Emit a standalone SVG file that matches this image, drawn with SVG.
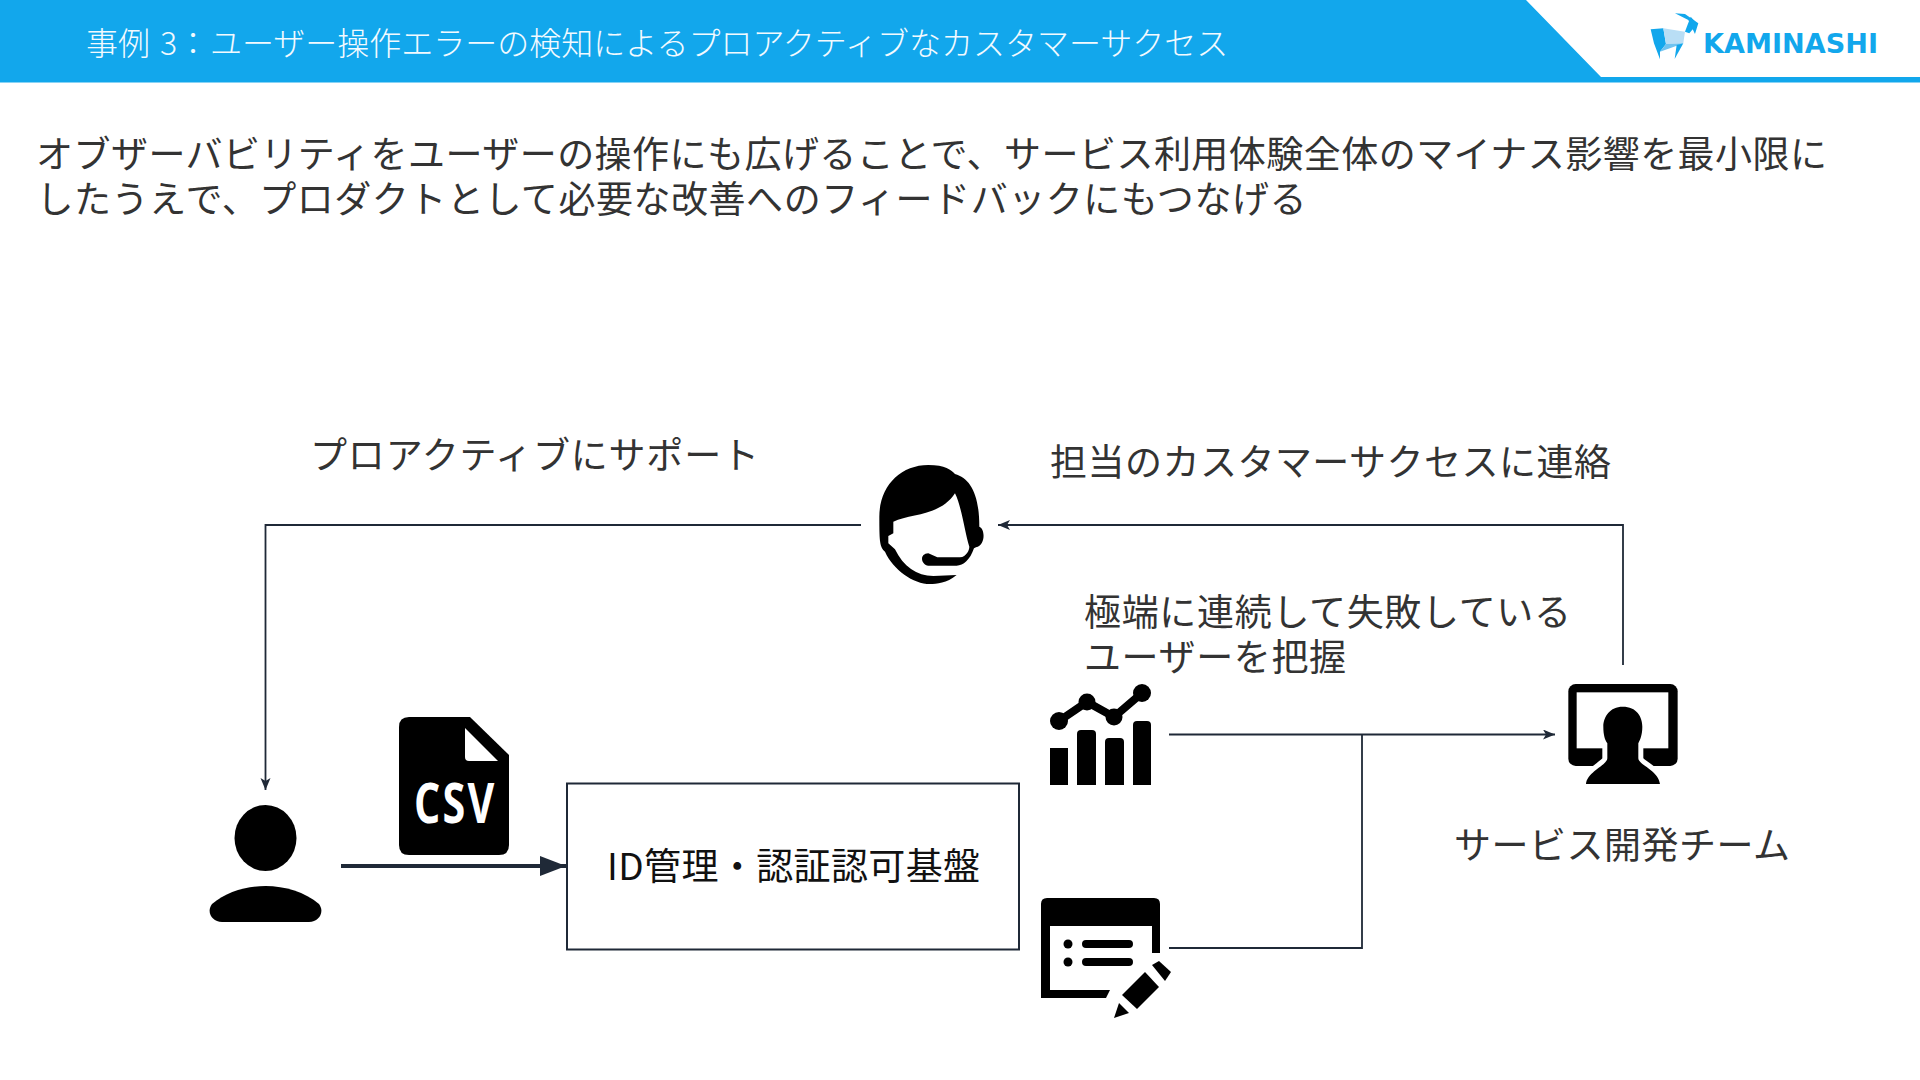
<svg xmlns="http://www.w3.org/2000/svg" width="1920" height="1080" viewBox="0 0 1920 1080">
<style>
text{font-family:"Noto Sans CJK JP","Noto Sans",sans-serif;font-weight:400;fill:#333;font-size:37px;dominant-baseline:alphabetic}
.ln{fill:none;stroke:#1f2937;stroke-width:1.8}
.ic{fill:#000}
</style>
<defs>
<marker id="a" markerUnits="userSpaceOnUse" markerWidth="14" markerHeight="12" refX="12" refY="5" orient="auto"><path d="M0 0L12 5L0 10L3 5Z" fill="#1f2937"/></marker>
<marker id="b" markerUnits="userSpaceOnUse" markerWidth="28" markerHeight="22" refX="26" refY="10" orient="auto"><path d="M0 0L26 10L0 20Z" fill="#1f2937"/></marker>
</defs>
<rect width="1920" height="1080" fill="#fff"/>
<g id="header">
<path d="M0 0H1526L1601 77H1920V82.500H0Z" fill="#12a7ec"/>
<text y="55" style="font-size:32px;fill:#f2faff;font-weight:300"><tspan x="86">事例</tspan><tspan x="160">3</tspan><tspan x="177">：</tspan><tspan x="210">ユーザー操作エラーの検知によるプロアクティブなカスタマーサクセス</tspan></text>
</g>
<g id="logo">
<g transform="translate(1500 0) scale(.3333)">
<path d="M452 88L490 85L498 132L480 155L480 178L462 130Z" fill="#12a7ec"/>
<path d="M490 85L555 95L550 130L498 132Z" fill="#b9def5"/>
<path d="M498 132L550 130L518 142L480 155Z" fill="#6fc3f0"/>
<path d="M555 95L572 50L592 72L568 100Z" fill="#12a7ec"/>
<path d="M525 40L555 42L595 70L585 102L565 60Z" fill="#12a7ec"/>
<path d="M550 130L524 177L530 135Z" fill="#12a7ec"/>
</g>
<text x="1703" y="53" textLength="175" lengthAdjust="spacingAndGlyphs" style="font-family:'DejaVu Sans',sans-serif;font-weight:700;font-size:26px;fill:#12a7ec">KAMINASHI</text>
</g>
<g id="intro">
<text x="36" y="168" textLength="1791">オブザーバビリティをユーザーの操作にも広げることで、サービス利用体験全体のマイナス影響を最小限に</text>
<text x="36.500" y="213" textLength="1270">したうえで、プロダクトとして必要な改善へのフィードバックにもつなげる</text>
</g>
<g id="connectors">
<path class="ln" d="M861 525H265.500V790" marker-end="url(#a)"/>
<path class="ln" d="M1623 665V525H998" marker-end="url(#a)"/>
<path class="ln" d="M1169 734.500H1555" marker-end="url(#a)"/>
<path class="ln" d="M1169 948H1362V734.500"/>
<path d="M341 866H566" fill="none" stroke="#1f2937" stroke-width="4" marker-end="url(#b)"/>
</g>
<g id="user" class="ic">
<ellipse cx="265.500" cy="838" rx="31" ry="33"/>
<path d="M222 922C212 922 206 912 212 904C226 892 246 886 265.500 886C285 886 305 892 319 904C325 912 319 922 309 922Z"/>
</g>
<g id="csv">
<path class="ic" d="M409 717H470L509 755V845Q509 855 499 855H409Q399 855 399 845V727Q399 717 409 717Z"/>
<path d="M465 728L498 761H469Q465 761 465 757Z" fill="#fff"/>
<text transform="translate(414 823) scale(.75 1)" x="0" y="0" textLength="107" style="font-family:'Open Sans',sans-serif;font-weight:700;font-size:55px;fill:#fff">CSV</text>
</g>
<g id="idp">
<rect x="567" y="783.500" width="452" height="166" fill="#fff" stroke="#1f2937" stroke-width="2"/>
<text x="607" y="880" textLength="373" style="fill:#111">ID管理・認証認可基盤</text>
</g>
<g id="chart" class="ic">
<path d="M1050 748H1068V785H1050Z"/>
<path d="M1077 734Q1077 730 1081 730H1092Q1096 730 1096 734V785H1077Z"/>
<path d="M1105 742Q1105 738 1109 738H1120Q1124 738 1124 742V785H1105Z"/>
<path d="M1133 725Q1133 721 1137 721H1147Q1151 721 1151 725V785H1133Z"/>
<path d="M1059 721L1087 702L1114 717L1142 693" fill="none" stroke="#000" stroke-width="8"/>
<circle cx="1059" cy="721" r="9"/><circle cx="1087" cy="702" r="8.500"/><circle cx="1114" cy="717" r="8.500"/><circle cx="1142" cy="693" r="9"/>
</g>
<g id="form">
<path class="ic" d="M1047 898H1154Q1160 898 1160 904V953H1152V926H1050V990H1110L1106 998H1041V904Q1041 898 1047 898Z"/>
<circle class="ic" cx="1068" cy="944" r="4.500"/><circle class="ic" cx="1068" cy="962" r="4.500"/>
<path d="M1086 944H1129M1086 962H1129" stroke="#000" stroke-width="8" stroke-linecap="round"/>
<path d="M1122 995L1145 972L1159 987L1137 1009Z" class="ic"/>
<path d="M1152 965L1159 961L1171 972L1165 981Z" class="ic"/>
<path d="M1114 1018L1119 1003L1129 1013Z" class="ic"/>
</g>
<g id="agent" transform="translate(850 450) scale(.3333)">
<path class="ic" d="M235 45C285 45 305 60 315 72C360 85 388 130 388 230C405 235 408 285 378 292L372 295C360 330 340 347 320 347L235 347C215 347 205 312 235 310L262 322L330 322C350 320 358 300 358 290C345 250 335 170 315 130C270 200 180 190 130 215L130 250L115 258L115 280L135 298C160 350 200 378 250 378L320 375C290 400 260 402 240 402C190 402 130 360 105 305C90 290 88 280 88 200C88 110 150 45 235 45Z"/>
</g>
<g id="team" transform="translate(1530 660) scale(.3333)">
<rect class="ic" x="115" y="72" width="328" height="246" rx="22"/>
<rect x="140" y="97" width="275" height="168" fill="#fff"/>
<path class="ic" d="M278 140C320 140 337 170 337 200C337 225 330 240 325 250L325 295C325 315 385 330 390 372L168 372C172 335 232 315 232 295L232 250C225 240 220 225 220 200C220 170 240 140 278 140Z" stroke="#fff" stroke-width="30" paint-order="stroke" stroke-linejoin="round"/>
</g>
<g id="labels">
<text x="310" y="469" textLength="449">プロアクティブにサポート</text>
<text x="1050" y="476" textLength="561">担当のカスタマーサクセスに連絡</text>
<text x="1084" y="626" textLength="487">極端に連続して失敗している</text>
<text x="1084" y="671" textLength="262">ユーザーを把握</text>
<text x="1454" y="859" textLength="336">サービス開発チーム</text>
</g>
</svg>
